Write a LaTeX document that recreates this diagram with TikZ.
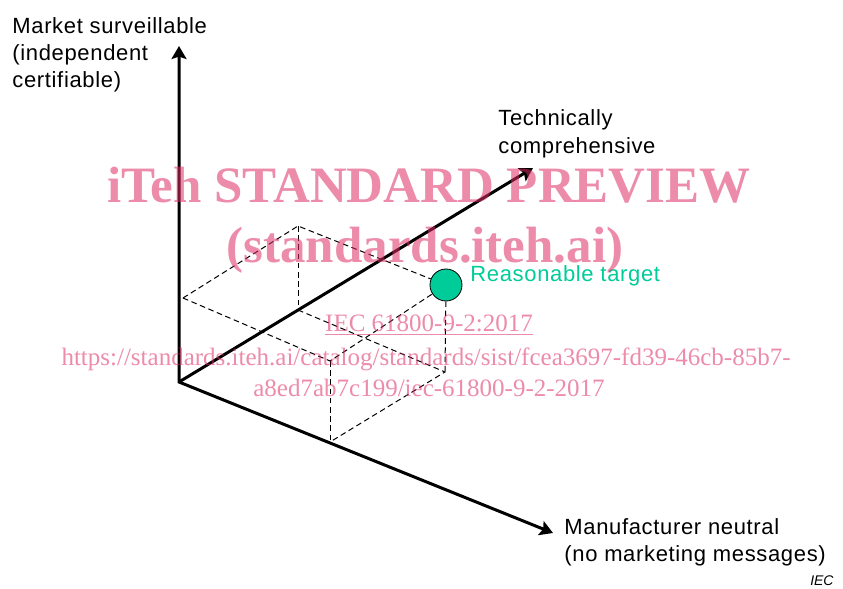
\documentclass[tikz,border=0pt]{standalone}
\usepackage{fontspec}
\setmainfont{Liberation Sans}
\newfontfamily\wmfont{Liberation Serif}
\usetikzlibrary{arrows.meta}
\definecolor{tgtgreen}{RGB}{0,204,153}
\definecolor{wmpink}{RGB}{220,45,100}
\begin{document}
\begin{tikzpicture}[x=0.5pt,y=-0.5pt,
  >={Stealth[length=6.5pt,width=7.5pt,inset=1.2pt]},
  axis/.style={line width=1.5pt},
  box/.style={line width=0.5pt,dash pattern=on 2.8pt off 1.8pt},
  lbl/.style={inner sep=0pt,anchor=base west,align=left,font=\fontsize{11}{13.75}\selectfont\addfontfeatures{LetterSpace=3}},
  wmbig/.style={inner sep=0pt,anchor=base,text=wmpink,text opacity=0.55,font=\wmfont\bfseries\fontsize{25.5}{30}\selectfont},
  wmsmall/.style={inner sep=0pt,anchor=base,text=wmpink,text opacity=0.55,font=\wmfont\fontsize{12.5}{15}\selectfont},
]
\useasboundingbox (0,0) rectangle (843,589);
% axes end points
\coordinate (O) at (179,382);
\coordinate (Vt) at (179,46);
\coordinate (Tt) at (533,168);
\coordinate (Mt) at (553,533);
% box corners
\coordinate (A) at (298,226);
\coordinate (B) at (183,298);
\coordinate (C) at (330,361);
\coordinate (Ap) at (298,310);
\coordinate (Cp) at (330,442);
\coordinate (Dp) at (445,372);
\node[circle,draw,fill=tgtgreen,minimum size=16pt,inner sep=0pt,line width=0.4pt] (tgt) at (446,285) {};
% dashed box
\draw[box] (B) -- (A) -- (tgt);
\draw[box] (B) -- (C) -- (tgt);
\draw[box] (A) -- (Ap);
\draw[box] (C) -- (Cp);
\draw[box] (tgt) -- (Dp);
\draw[box] (Ap) -- (Dp) -- (Cp);
% axes
\draw[axis,<->] (Vt) -- (O) -- (Mt);
\draw[axis,->] (O) -- (Tt);
% labels (base anchor = last line)
\node[lbl] (lv) at (12,88) {Market surveillable\\(independent\\certifiable)};
\node[lbl] (lt) at (498,153.5) {Technically\\comprehensive};
\node[lbl,text=tgtgreen] (lr) at (470,281.5) {Reasonable target};
\node[lbl] (lm) at (564,561.5) {Manufacturer neutral\\(no marketing messages)};
\node[inner sep=0pt,anchor=base east,font=\itshape\fontsize{7}{8}\selectfont] (iec) at (834,585) {IEC};
% watermark
\node[wmbig] (w1) at (429,202) {iTeh STANDARD PREVIEW};
\node[wmbig] (w2) at (425,263) {(standards.iteh.ai)};
\node[wmsmall] (w3) at (429,331.5) {\underline{IEC 61800-9-2:2017}};
\node[wmsmall] (w4) at (426,365) {https://standards.iteh.ai/catalog/standards/sist/fcea3697-fd39-46cb-85b7-};
\node[wmsmall] (w5) at (429,396.5) {a8ed7ab7c199/iec-61800-9-2-2017};
\end{tikzpicture}
\end{document}
